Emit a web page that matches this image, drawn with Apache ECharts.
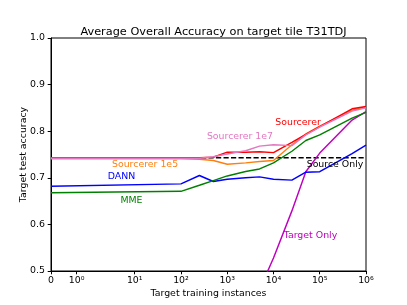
<!DOCTYPE html>
<html><head><meta charset="utf-8">
<script src="https://cdn.jsdelivr.net/npm/echarts@6/dist/echarts.min.js"></script>
<style>html,body{margin:0;padding:0;background:#fff}#c{width:407px;height:305px}</style>
</head><body><div id="c"></div>
<script>
// Target training instances (x) for each measured point
const instances = [0, 100, 250, 500, 1000, 2500, 5000, 10000, 25000, 50000, 100000, 500000, 1000000];
const sourcerer   = [0.743, 0.743, 0.743, 0.744, 0.755, 0.755, 0.756, 0.754, 0.776, 0.793, 0.810, 0.848, 0.853];
const sourcerer1e7= [0.742, 0.742, 0.742, 0.745, 0.751, 0.758, 0.768, 0.771, 0.769, 0.792, 0.809, 0.843, 0.850];
const sourcerer1e5= [0.741, 0.741, 0.740, 0.737, 0.729, 0.732, 0.735, 0.737, 0.771, 0.794, 0.811, 0.845, 0.852];
const dann        = [0.682, 0.687, 0.705, 0.692, 0.697, 0.700, 0.702, 0.697, 0.695, 0.712, 0.713, 0.752, 0.770];
const mme         = [0.668, 0.671, 0.684, 0.694, 0.704, 0.7135, 0.719, 0.732, 0.757, 0.780, 0.792, 0.828, 0.8405];
const targetOnly  = [null, null, null, null, null, null, 0.46, 0.528, 0.629, 0.713, 0.753, 0.824, 0.842];
const sourceOnly  = [0.743, 0.743, 0.743, 0.743, 0.743, 0.743, 0.743, 0.743, 0.743, 0.743, 0.743, 0.743, 0.743];

const xTickValues = [0, 1, 10, 100, 1000, 10000, 100000, 1000000];
const xTickLabels = ['0', '10⁰', '10¹', '10²', '10³', '10⁴', '10⁵', '10⁶'];
const yTicks = [0.5, 0.6, 0.7, 0.8, 0.9, 1.0];

// matplotlib symlog (linthresh=2, linscale=1, base 10)
const LT = 2, ADJ = 1 / (1 - 1 / 10);
function symlog(v) {
  const a = Math.abs(v);
  if (a <= LT) return v * ADJ;
  return Math.sign(v) * LT * (ADJ + Math.log10(a / LT));
}
const xTickPos = xTickValues.map(symlog);
const pts = arr => instances.map((x, i) => [symlog(x), arr[i]]);

const FONT = 'DejaVu Sans';
function ann(text, x, y, color) {
  return {
    symbol: 'circle', symbolSize: 0, silent: true,
    label: { show: true, position: 'inside', formatter: text, color: color, fontSize: 9.4, fontFamily: FONT },
    data: [{ coord: [symlog(x), y] }]
  };
}
function line(name, arr, color, extra, mp) {
  return Object.assign({
    name: name, type: 'line', data: pts(arr), showSymbol: false, symbol: 'none',
    connectNulls: false, clip: true, animation: false,
    lineStyle: { color: color, width: 1.45 }, itemStyle: { color: color },
    markPoint: mp
  }, extra || {});
}

const chart = echarts.init(document.getElementById('c'), null, { renderer: 'canvas' });
chart.setOption({
  animation: false,
  backgroundColor: '#fff',
  textStyle: { fontFamily: FONT },
  title: {
    text: 'Average Overall Accuracy on target tile T31TDJ',
    left: 208.5, top: 22, textAlign: 'center',
    textStyle: { fontFamily: FONT, fontSize: 11.3, fontWeight: 'normal', color: '#000' }
  },
  grid: { left: 51, right: 41, top: 38, bottom: 34, show: true, borderColor: '#000', borderWidth: 1, backgroundColor: 'transparent' },
  xAxis: {
    type: 'value', min: 0, max: symlog(1000000),
    name: 'Target training instances', nameLocation: 'middle', nameGap: 18, nameMoveOverlap: false,
    nameTextStyle: { fontFamily: FONT, fontSize: 9.4, color: '#000' },
    axisLine: { show: true, onZero: false, lineStyle: { color: '#000', width: 1 } },
    axisTick: { show: true, inside: false, length: 3.3, customValues: xTickPos, lineStyle: { color: '#000' } },
    axisLabel: {
      show: true, margin: 5, customValues: xTickPos, color: '#000', fontFamily: FONT, fontSize: 9.4,
      formatter: function (v) {
        let best = 0, bd = Infinity;
        xTickPos.forEach((p, i) => { const d = Math.abs(p - v); if (d < bd) { bd = d; best = i; } });
        return xTickLabels[best];
      }
    },
    splitLine: { show: false }
  },
  yAxis: {
    type: 'value', min: 0.5, max: 1.0, interval: 0.1,
    name: 'Target test accuracy', nameLocation: 'middle', nameGap: 23, nameRotate: 90, nameMoveOverlap: false,
    nameTextStyle: { fontFamily: FONT, fontSize: 9.4, color: '#000' },
    axisLine: { show: true, lineStyle: { color: '#000', width: 1 } },
    axisTick: { show: true, inside: false, length: 3.3, lineStyle: { color: '#000' } },
    axisLabel: { margin: 6, color: '#000', fontFamily: FONT, fontSize: 9.4, formatter: v => v.toFixed(1) },
    splitLine: { show: false }
  },
  series: [
    line('Source Only', sourceOnly, '#000000', { lineStyle: { color: '#000', width: 1.45, type: [5.2, 2.3] } },
      ann('Source Only', 213800, 0.7285, '#000000')),
    line('Target Only', targetOnly, '#bf00bf', null, ann('Target Only', 63100, 0.576, '#bf00bf')),
    line('DANN', dann, '#0000ff', null, ann('DANN', 5.18, 0.7028, '#0000ff')),
    line('MME', mme, '#008000', null, ann('MME', 8.5, 0.6517, '#008000')),
    line('Sourcerer 1e5', sourcerer1e5, '#ff7f0e', null, ann('Sourcerer 1e5', 16.7, 0.7285, '#ff7f0e')),
    line('Sourcerer', sourcerer, '#ff0000', null, ann('Sourcerer', 33900, 0.8187, '#ff0000')),
    line('Sourcerer 1e7', sourcerer1e7, '#e377c2', null, ann('Sourcerer 1e7', 1884, 0.7876, '#e377c2'))
  ]
});
</script>
</body></html>
